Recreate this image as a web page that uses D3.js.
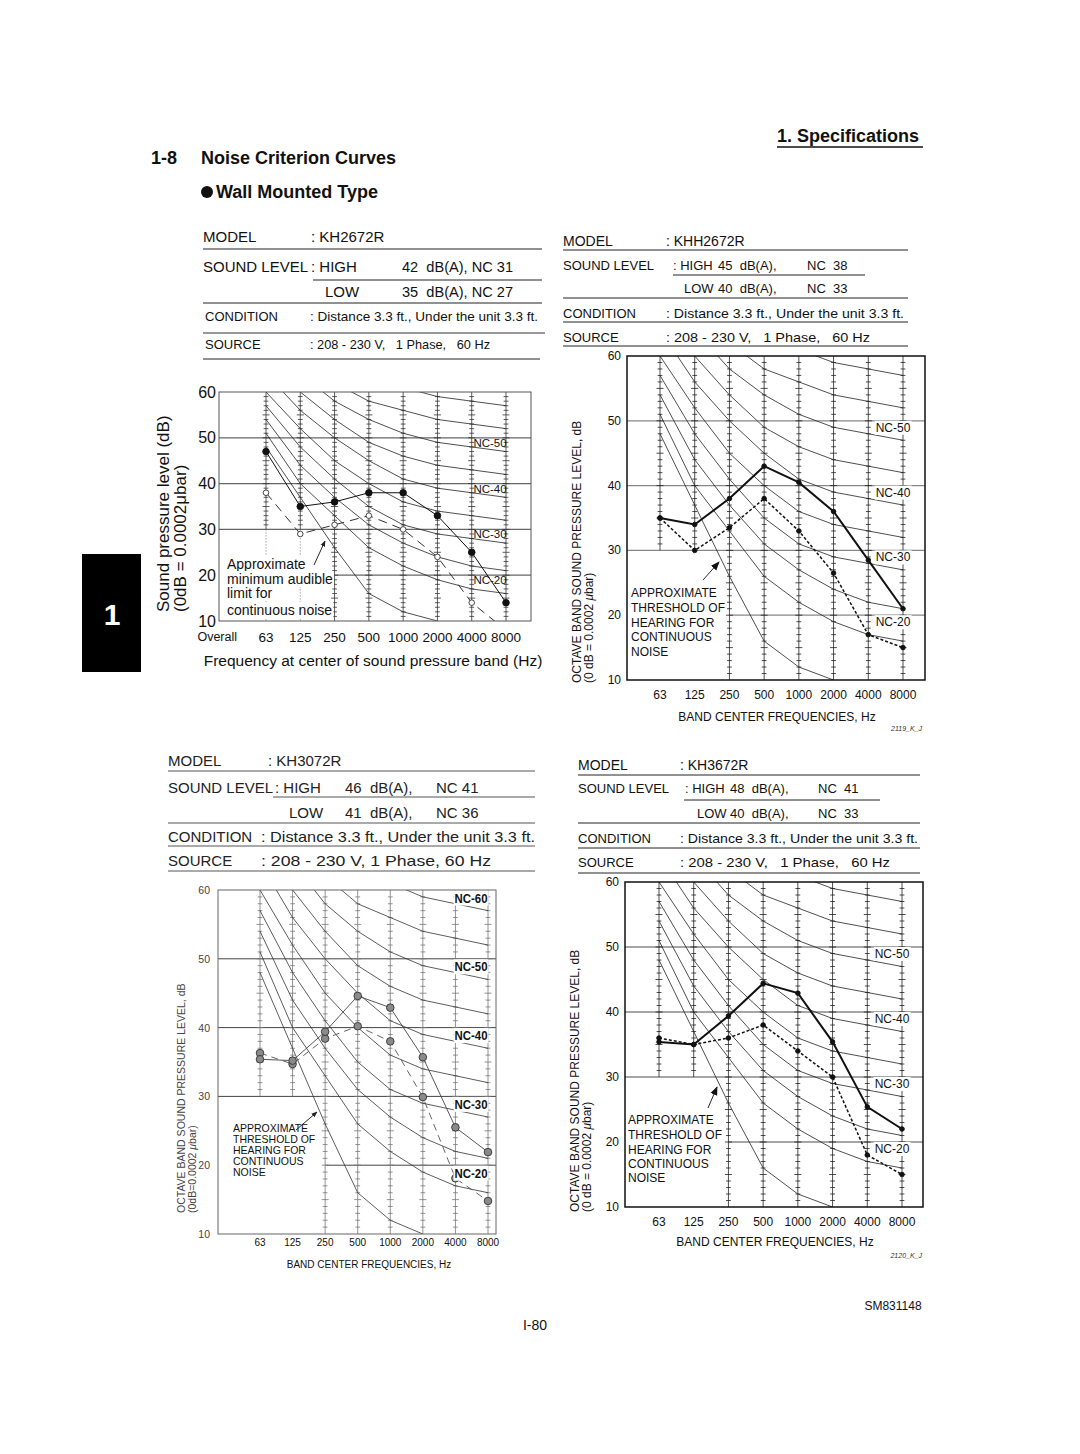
<!DOCTYPE html>
<html>
<head>
<meta charset="utf-8">
<script src="https://cdn.jsdelivr.net/npm/d3@7"></script>
<style>
  body { margin: 0; background: #fff; }
  svg text { font-family: "Liberation Sans", Arial, Helvetica, sans-serif; white-space: pre; }
</style>
</head>
<body>
<svg id="page" width="1080" height="1454"></svg>
<script>
// octave band centres and axis ticks
const bands = ["63", "125", "250", "500", "1000", "2000", "4000", "8000"];
const yTicks = [10, 20, 30, 40, 50, 60];
const gridLevels = [50, 40, 30, 20];

// NC reference curves (dB for each band)
const nc20 = [51, 40, 33, 26, 22, 19, 17, 16];
const nc25 = [54, 44, 37, 31, 27, 24, 22, 21];
const nc30 = [57, 48, 41, 35, 31, 29, 28, 27];
const nc35 = [60, 52, 45, 40, 36, 34, 33, 32];
const nc40 = [64, 56, 50, 45, 41, 39, 38, 37];
const nc45 = [67, 60, 54, 49, 46, 44, 43, 42];
const nc50 = [71, 64, 58, 54, 51, 49, 48, 47];
const nc55 = [74, 67, 62, 58, 56, 54, 53, 52];
const nc60 = [77, 71, 67, 63, 61, 59, 58, 57];
const ncCurves = [nc20, nc25, nc30, nc35, nc40, nc45, nc50, nc55, nc60];
// threshold of hearing, 63 .. 2000 Hz
const thresholdCurve = [48, 37, 26, 16, 12, 10];

// measured levels, HIGH / LOW fan speed
const kh2672rHigh = [47, 35, 36, 38, 38, 33, 25, 14];
const kh2672rLow = [38, 29, 31, 33, 30, 24, 14, 8];
const khh2672rHigh = [35, 34, 38, 43, 40.5, 36, 28.5, 21];
const khh2672rLow = [35, 30, 33.5, 38, 33, 26.5, 17, 15];
const kh3072rHigh = [35.4, 35.2, 39.4, 44.6, 42.9, 35.7, 25.5, 21.9];
const kh3072rLow = [36.3, 34.7, 38.4, 40.2, 38, 29.9, 18.1, 14.8];
const kh3672rHigh = [35.4, 35, 39.4, 44.4, 42.9, 35.4, 25.4, 22];
const kh3672rLow = [36, 35, 36, 38, 34, 30, 18, 15];

const svg = d3.select("#page");
svg.append("rect").attr("width", 1080).attr("height", 1454).attr("fill", "#fff");

const defs = svg.append("defs");
defs.append("marker")
    .attr("id", "arrow")
    .attr("viewBox", "0 0 10 10")
    .attr("refX", 9).attr("refY", 5)
    .attr("markerWidth", 9).attr("markerHeight", 9)
    .attr("markerUnits", "userSpaceOnUse")
    .attr("orient", "auto")
    .append("path").attr("d", "M0,1 L10,5 L0,9 Z").attr("fill", "#111");
defs.append("marker")
    .attr("id", "arrowSmall")
    .attr("viewBox", "0 0 10 10")
    .attr("refX", 9).attr("refY", 5)
    .attr("markerWidth", 6).attr("markerHeight", 6)
    .attr("markerUnits", "userSpaceOnUse")
    .attr("orient", "auto")
    .append("path").attr("d", "M0,1 L10,5 L0,9 Z").attr("fill", "#222");

function txt(parent, x, y, s, size, opts = {}) {
    return parent.append("text")
        .attr("x", x).attr("y", y)
        .attr("dominant-baseline", "central")
        .attr("font-size", size)
        .attr("font-weight", opts.bold ? "bold" : null)
        .attr("text-anchor", opts.anchor || "start")
        .attr("fill", opts.fill || "#111")
        .text(s);
}

function hline(x1, x2, y, stroke = "#222", width = 1) {
    svg.append("line")
        .attr("x1", x1).attr("x2", x2).attr("y1", y).attr("y2", y)
        .attr("stroke", stroke).attr("stroke-width", width);
}

// white box behind a text element
function backdrop(parent, el, pad = 1) {
    const b = el.node().getBBox();
    parent.insert("rect", () => el.node())
        .attr("x", b.x - pad).attr("y", b.y)
        .attr("width", b.width + 2 * pad).attr("height", b.height)
        .attr("fill", "#fff");
}

// ---------- page furniture ----------
txt(svg, 777, 136, "1. Specifications", 18, {bold: true});
hline(777, 923, 147, "#111", 1.5);
txt(svg, 151, 158, "1-8", 18, {bold: true});
txt(svg, 201, 158, "Noise Criterion Curves", 18, {bold: true});
svg.append("circle").attr("cx", 207).attr("cy", 192).attr("r", 6).attr("fill", "#111");
txt(svg, 216, 192, "Wall Mounted Type", 18, {bold: true});

svg.append("rect").attr("x", 82).attr("y", 554).attr("width", 59).attr("height", 118).attr("fill", "#000");
txt(svg, 112, 614, "1", 30, {bold: true, fill: "#fff", anchor: "middle"});

txt(svg, 535, 1325, "I-80", 14, {anchor: "middle"});
txt(svg, 893, 1306, "SM831148", 12, {anchor: "middle"});

// ---------- spec headers: [x, y, text, size, width] ----------
const header1 = [
    [203, 236, "MODEL", 15], [311, 236, ": KH2672R", 15],
    [203, 266, "SOUND LEVEL", 15], [311, 266, ": HIGH", 15], [402, 266, "42  dB(A), NC 31", 15, 111],
    [325, 291, "LOW", 15], [402, 291, "35  dB(A), NC 27", 15, 111],
    [205, 316, "CONDITION", 13], [310, 316, ": Distance 3.3 ft., Under the unit 3.3 ft.", 13, 228],
    [205, 344, "SOURCE", 13], [310, 344, ": 208 - 230 V,   1 Phase,   60 Hz", 13, 180]
];
const rules1 = [[203, 542, 249], [313, 542, 280], [203, 542, 303], [203, 545, 333, "#999", 2], [203, 540, 359]];

const header2 = [
    [563, 241, "MODEL", 14], [666, 241, ": KHH2672R", 14],
    [563, 265, "SOUND LEVEL", 13], [673, 265, ": HIGH", 13], [718, 265, "45  dB(A),", 13], [807, 265, "NC  38", 13],
    [684, 288, "LOW", 13], [718, 288, "40  dB(A),", 13], [807, 288, "NC  33", 13],
    [563, 313, "CONDITION", 13], [666, 313, ": Distance 3.3 ft., Under the unit 3.3 ft.", 13, 238],
    [563, 337, "SOURCE", 13], [666, 337, ": 208 - 230 V,   1 Phase,   60 Hz", 13, 204]
];
const rules2 = [[563, 908, 250], [673, 865, 275], [563, 908, 298], [563, 908, 322], [563, 908, 346]];

const header3 = [
    [168, 760, "MODEL", 15], [268, 760, ": KH3072R", 15],
    [168, 787, "SOUND LEVEL", 15], [275, 787, ": HIGH", 15], [345, 787, "46  dB(A),", 15], [436, 787, "NC 41", 15],
    [289, 812, "LOW", 15], [345, 812, "41  dB(A),", 15], [436, 812, "NC 36", 15],
    [168, 836, "CONDITION", 15], [261, 836, ": Distance 3.3 ft., Under the unit 3.3 ft.", 15, 274],
    [168, 860, "SOURCE", 15], [261, 860, ": 208 - 230 V, 1 Phase, 60 Hz", 15, 230]
];
const rules3 = [[168, 535, 771, "#555"], [273, 535, 797, "#555"], [168, 535, 823, "#555"], [168, 535, 846, "#555"], [168, 535, 871, "#555"]];

const header4 = [
    [578, 765, "MODEL", 14], [680, 765, ": KH3672R", 14],
    [578, 788, "SOUND LEVEL", 13], [685, 788, ": HIGH", 13], [730, 788, "48  dB(A),", 13], [818, 788, "NC  41", 13],
    [697, 813, "LOW", 13], [730, 813, "40  dB(A),", 13], [818, 813, "NC  33", 13],
    [578, 838, "CONDITION", 13], [680, 838, ": Distance 3.3 ft., Under the unit 3.3 ft.", 13, 238],
    [578, 862, "SOURCE", 13], [680, 862, ": 208 - 230 V,   1 Phase,   60 Hz", 13, 210]
];
const rules4 = [[578, 920, 775], [684, 880, 800], [578, 920, 823], [578, 920, 848], [578, 920, 873]];

[[header1, rules1, "#111"], [header2, rules2, "#111"], [header3, rules3, "#222"], [header4, rules4, "#111"]]
    .forEach(([rows, rules, fill]) => {
        rows.forEach(r => {
            const t = txt(svg, r[0], r[1], r[2], r[3], {fill: fill});
            if (r[4]) t.attr("textLength", r[4]).attr("lengthAdjust", "spacingAndGlyphs");
        });
        rules.forEach(r => hline(r[0], r[1], r[2], r[3] || "#222", r[4] || 1));
    });

// ---------- chart definitions ----------
const thresholdText = ["APPROXIMATE", "THRESHOLD OF", "HEARING FOR", "CONTINUOUS", "NOISE"];
const audibleText = ["Approximate", "minimum audible", "limit for", "continuous noise"];
const ncLabels4 = [["NC-50", 50], ["NC-40", 40], ["NC-30", 30], ["NC-20", 20]];
const ncLabels5 = [["NC-60", 60], ["NC-50", 50], ["NC-40", 40], ["NC-30", 30], ["NC-20", 20]];

const charts = [
    {
        id: 1, left: 219, right: 531, top: 392, bottom: 621, x0: 266, x1: 506,
        high: kh2672rHigh, low: kh2672rLow,
        frame: ["#555", 1], grid: ["#666", 1.2], col: ["#333", 0.8], curve: ["#222", 0.8],
        highStyle: {stroke: "#111", width: 1, dash: null, r: 3.3, fill: "#111", mstroke: "#111"},
        lowStyle: {stroke: "#333", width: 1, dash: "9,6", r: 2.8, fill: "#fff", mstroke: "#333"},
        dottedLow: true,
        yTick: {size: 16, dx: -3, fill: "#111"},
        xTick: {size: 13.5, y: 637, overall: true},
        xTitle: {text: "Frequency at center of sound pressure band (Hz)", x: 373, y: 660, size: 15.5},
        yTitle: {lines: ["Sound pressure level (dB)", "(0dB = 0.0002μbar)"], xs: [163, 180], y0: 612, size: 17, fill: "#111"},
        labels: ncLabels4, labelX: 490, labelDy: 5, labelSize: 11.5, labelBg: false,
        anno: {lines: audibleText, x: 227, ys: [564, 579, 593, 610], size: 14},
        arrow: [314, 565, 325, 541, "arrowSmall"]
    },
    {
        id: 2, left: 627, right: 925, top: 356, bottom: 680, x0: 660, x1: 903,
        high: khh2672rHigh, low: khh2672rLow,
        frame: ["#111", 1.5], grid: ["#888", 1.3], col: ["#222", 0.8], curve: ["#222", 0.8],
        highStyle: {stroke: "#111", width: 2, dash: null, r: 2.3, fill: "#111", mstroke: "#111"},
        lowStyle: {stroke: "#111", width: 1.5, dash: "3,2", r: 2.3, fill: "#111", mstroke: "#111"},
        dottedLow: false,
        yTick: {size: 12, dx: -6, fill: "#111"},
        xTick: {size: 12, y: 695},
        xTitle: {text: "BAND CENTER FREQUENCIES, Hz", x: 777, y: 717, size: 12},
        yTitle: {lines: ["OCTAVE BAND SOUND PRESSURE LEVEL, dB", "(0 dB = 0.0002 μbar)"], xs: [577, 589], y0: 683, size: 12, fill: "#111"},
        labels: ncLabels4, labelX: 893, labelDy: 7, labelSize: 12, labelBg: true,
        anno: {lines: thresholdText, x: 631, ys: [593, 608, 623, 637, 652], size: 12},
        arrow: [703, 580, 719, 562, "arrow"],
        stamp: ["2119_K_J", 922, 728]
    },
    {
        id: 3, left: 218, right: 496, top: 890, bottom: 1234, x0: 260, x1: 488,
        high: kh3072rHigh, low: kh3072rLow,
        frame: ["#666", 1], grid: ["#444", 1], col: ["#777", 0.8], curve: ["#333", 0.8],
        highStyle: {stroke: "#444", width: 0.9, dash: null, r: 3.8, fill: "#8a8a8a", mstroke: "#333"},
        lowStyle: {stroke: "#555", width: 0.9, dash: "7,5", r: 3.8, fill: "#8a8a8a", mstroke: "#333"},
        dottedLow: false,
        yTick: {size: 10.5, dx: -8, fill: "#444"},
        xTick: {size: 10, y: 1242},
        xTitle: {text: "BAND CENTER FREQUENCIES, Hz", x: 369, y: 1264, size: 10},
        yTitle: {lines: ["OCTAVE BAND SOUND PRESSURE LEVEL, dB", "(0dB=0.0002 μbar)"], xs: [181, 192], y0: 1213, size: 10.5, fill: "#444"},
        labels: ncLabels5, labelX: 471, labelDy: 8, labelSize: 13, labelBg: true, labelBold: true, labelLen: 33,
        anno: {lines: thresholdText, x: 233, ys: [1128, 1139, 1150, 1161, 1172], size: 10.5},
        arrow: [296, 1130, 317, 1112, "arrowSmall"]
    },
    {
        id: 4, left: 625, right: 923, top: 882, bottom: 1207, x0: 659, x1: 902,
        high: kh3672rHigh, low: kh3672rLow,
        frame: ["#111", 1.5], grid: ["#888", 1.3], col: ["#222", 0.8], curve: ["#222", 0.8],
        highStyle: {stroke: "#111", width: 2, dash: null, r: 2.3, fill: "#111", mstroke: "#111"},
        lowStyle: {stroke: "#111", width: 1.5, dash: "3,2", r: 2.3, fill: "#111", mstroke: "#111"},
        dottedLow: false,
        yTick: {size: 12, dx: -6, fill: "#111"},
        xTick: {size: 12, y: 1222},
        xTitle: {text: "BAND CENTER FREQUENCIES, Hz", x: 775, y: 1242, size: 12},
        yTitle: {lines: ["OCTAVE BAND SOUND PRESSURE LEVEL, dB", "(0 dB = 0.0002 μbar)"], xs: [575, 587], y0: 1212, size: 12, fill: "#111"},
        labels: ncLabels4, labelX: 892, labelDy: 7, labelSize: 12, labelBg: true,
        anno: {lines: thresholdText, x: 628, ys: [1120, 1135, 1150, 1164, 1178], size: 12},
        arrow: [708, 1108, 717, 1087, "arrow"],
        stamp: ["2120_K_J", 922, 1255]
    }
];

function drawChart(c) {
    const g = svg.append("g").attr("class", "chart" + c.id);
    const x = d3.scalePoint().domain(bands).range([c.x0, c.x1]);
    const y = d3.scaleLinear().domain([10, 60]).range([c.bottom, c.top]);

    const clipId = "clip" + c.id;
    defs.append("clipPath").attr("id", clipId)
        .append("rect")
        .attr("x", c.left).attr("y", c.top)
        .attr("width", c.right - c.left).attr("height", c.bottom - c.top);

    // horizontal reference lines (20 dB starts at the 250 Hz column)
    g.selectAll(".grid").data(gridLevels).enter().append("line")
        .attr("x1", d => d === 20 ? x("250") : c.left)
        .attr("x2", c.right)
        .attr("y1", d => y(d)).attr("y2", d => y(d))
        .attr("stroke", c.grid[0]).attr("stroke-width", c.grid[1]);

    // band columns with 1 dB tick marks
    bands.forEach((b, i) => {
        const lo = i < 2 ? 30 : 10;
        const cx = x(b);
        g.append("line")
            .attr("x1", cx).attr("x2", cx).attr("y1", y(60)).attr("y2", y(lo))
            .attr("stroke", c.col[0]).attr("stroke-width", c.col[1]);
        if (c.dottedLow && i < 2) {
            g.append("line")
                .attr("x1", cx).attr("x2", cx).attr("y1", y(30)).attr("y2", y(10))
                .attr("stroke", "#555").attr("stroke-width", 0.8).attr("stroke-dasharray", "1,2");
        }
        g.selectAll(null).data(d3.range(lo + 1, 60)).enter().append("line")
            .attr("x1", d => cx - (d % 5 === 0 ? 3.5 : 2.4))
            .attr("x2", d => cx + (d % 5 === 0 ? 3.5 : 2.4))
            .attr("y1", d => y(d)).attr("y2", d => y(d))
            .attr("stroke", c.col[0]).attr("stroke-width", 0.8);
    });

    const line = d3.line().x((d, i) => x(bands[i])).y(d => y(d));
    const plot = g.append("g").attr("clip-path", `url(#${clipId})`);

    plot.selectAll(".nc").data(ncCurves).enter().append("path")
        .attr("d", line).attr("fill", "none")
        .attr("stroke", c.curve[0]).attr("stroke-width", c.curve[1]);
    plot.append("path").attr("d", line(thresholdCurve)).attr("fill", "none")
        .attr("stroke", c.curve[0]).attr("stroke-width", c.curve[1]);

    // NC labels
    c.labels.forEach(([name, lv]) => {
        const t = txt(g, c.labelX, y(lv) + c.labelDy, name, c.labelSize, {anchor: "middle", bold: c.labelBold});
        if (c.labelLen) t.attr("textLength", c.labelLen).attr("lengthAdjust", "spacingAndGlyphs");
        if (c.labelBg) backdrop(g, t, 1);
    });

    // measured series
    [[c.low, c.lowStyle], [c.high, c.highStyle]].forEach(([vals, s]) => {
        plot.append("path").attr("d", line(vals)).attr("fill", "none")
            .attr("stroke", s.stroke).attr("stroke-width", s.width)
            .attr("stroke-dasharray", s.dash);
        plot.selectAll(null).data(vals).enter().append("circle")
            .attr("cx", (d, i) => x(bands[i])).attr("cy", d => y(d))
            .attr("r", s.r).attr("fill", s.fill)
            .attr("stroke", s.mstroke).attr("stroke-width", 0.9);
    });

    // frame
    g.append("rect")
        .attr("x", c.left).attr("y", c.top)
        .attr("width", c.right - c.left).attr("height", c.bottom - c.top)
        .attr("fill", "none").attr("stroke", c.frame[0]).attr("stroke-width", c.frame[1]);

    // y tick labels
    g.selectAll(".ytick").data(yTicks).enter().append("text")
        .attr("x", c.left + c.yTick.dx).attr("y", d => y(d))
        .attr("text-anchor", "end").attr("dominant-baseline", "central")
        .attr("font-size", c.yTick.size).attr("fill", c.yTick.fill)
        .text(d => d);

    // x tick labels
    g.selectAll(".xtick").data(bands).enter().append("text")
        .attr("x", d => x(d)).attr("y", c.xTick.y)
        .attr("text-anchor", "middle").attr("dominant-baseline", "central")
        .attr("font-size", c.xTick.size).attr("fill", "#111")
        .text(d => d);
    if (c.xTick.overall) {
        txt(g, x("63") - 29, c.xTick.y, "Overall", 12.5, {anchor: "end"});
    }

    txt(g, c.xTitle.x, c.xTitle.y, c.xTitle.text, c.xTitle.size, {anchor: "middle"});

    // rotated y titles, bottom aligned
    c.yTitle.lines.forEach((s, i) => {
        const t = g.append("text")
            .attr("transform", `translate(${c.yTitle.xs[i]},${c.yTitle.y0}) rotate(-90)`)
            .attr("dominant-baseline", "central")
            .attr("font-size", c.yTitle.size).attr("fill", c.yTitle.fill);
        if (s.includes("μ") && c.id !== 1) {
            const parts = s.split("μ");
            t.append("tspan").text(parts[0]);
            t.append("tspan").attr("font-style", "italic").text("μ");
            t.append("tspan").text(parts[1]);
        } else {
            t.text(s);
        }
    });

    // threshold annotation and arrow
    c.anno.lines.forEach((s, i) => {
        const t = txt(g, c.anno.x, c.anno.ys[i], s, c.anno.size);
        backdrop(g, t, 1);
    });
    const a = c.arrow;
    g.append("line").attr("x1", a[0]).attr("y1", a[1]).attr("x2", a[2]).attr("y2", a[3])
        .attr("stroke", "#111").attr("stroke-width", 0.9)
        .attr("marker-end", `url(#${a[4]})`);

    if (c.stamp) {
        txt(g, c.stamp[1], c.stamp[2], c.stamp[0], 7, {anchor: "end", fill: "#333"})
            .attr("font-family", "'Liberation Serif', serif").attr("font-style", "italic");
    }
}

charts.forEach(drawChart);
</script>
</body>
</html>
